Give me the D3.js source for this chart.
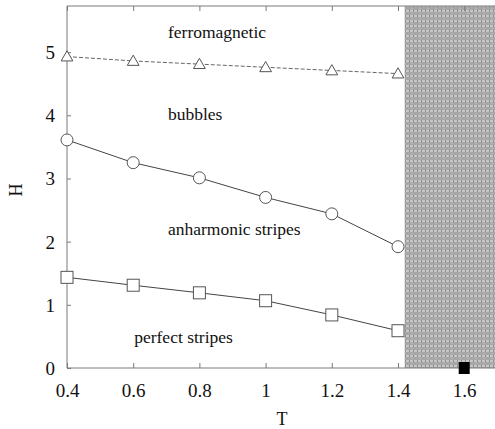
<!DOCTYPE html>
<html>
<head>
<meta charset="utf-8">
<script src="https://cdn.jsdelivr.net/npm/d3@7"></script>
<style>
  html, body { margin: 0; padding: 0; background: #fff; }
  svg { display: block; }
  text { font-family: "Liberation Serif", "Times New Roman", Times, "DejaVu Serif", serif; fill: #111; }
</style>
</head>
<body>
<svg id="chart" width="495" height="429"></svg>
<script>
// Phase boundaries H(T)
const temps = [0.4, 0.6, 0.8, 1.0, 1.2, 1.4];
const ferroBoundary = [4.93, 4.86, 4.81, 4.76, 4.71, 4.66];
const bubbleBoundary = [3.61, 3.25, 3.01, 2.70, 2.44, 1.92];
const stripeBoundary = [1.435, 1.31, 1.19, 1.065, 0.84, 0.59];

// Disordered (shaded) region begins here
const shadeStartT = 1.42;
// Isolated transition point
const criticalPoint = { T: 1.6, H: 0 };

const xTicks = [0.4, 0.6, 0.8, 1.0, 1.2, 1.4, 1.6];
const xTickLabels = ["0.4", "0.6", "0.8", "1", "1.2", "1.4", "1.6"];
const yTicks = [0, 1, 2, 3, 4, 5];

const phaseNames = ["ferromagnetic", "bubbles", "anharmonic stripes", "perfect stripes"];
const phaseT = [0.705, 0.705, 0.705, 0.603];
const phaseH = [5.23, 3.92, 2.10, 0.39];

const serif = '"Liberation Serif", "Times New Roman", Times, "DejaVu Serif", serif';

const svg = d3.select("#chart");
const x = d3.scaleLinear().domain([0.4, 1.7]).range([67, 497.3]);
const y = d3.scaleLinear().domain([0, 5.73]).range([368, 6]);

const axisColor = "#7a7a7a";
const lineColor = "#444";

// shaded pattern
const defs = svg.append("defs");
const pat = defs.append("pattern").attr("id", "shade")
  .attr("patternUnits", "userSpaceOnUse").attr("width", 8).attr("height", 5);
pat.append("rect").attr("width", 8).attr("height", 5).attr("fill", "#a6a6a6");
pat.append("rect").attr("y", 0).attr("width", 8).attr("height", 2).attr("fill", "#c8c8c8");
pat.append("rect").attr("x", 1).attr("y", 0).attr("width", 1).attr("height", 2).attr("fill", "#8c8c8c");
pat.append("rect").attr("x", 5).attr("y", 0).attr("width", 1).attr("height", 2).attr("fill", "#8c8c8c");
pat.append("rect").attr("x", 3).attr("y", 3).attr("width", 2).attr("height", 1).attr("fill", "#b8b8b8");

svg.append("rect")
  .attr("x", x(shadeStartT)).attr("y", y(5.73))
  .attr("width", x(1.7) - x(shadeStartT)).attr("height", y(0) - y(5.73))
  .attr("fill", "url(#shade)");

// frame
const frame = svg.append("g").attr("stroke", axisColor).attr("stroke-width", 1).attr("fill", "none");
frame.append("line").attr("x1", x(0.4)).attr("x2", x(0.4)).attr("y1", y(5.73)).attr("y2", y(0));
frame.append("line").attr("x1", x(0.4)).attr("x2", 495).attr("y1", y(0)).attr("y2", y(0));
frame.append("line").attr("x1", x(0.4)).attr("x2", 495).attr("y1", y(5.73)).attr("y2", y(5.73));

// axes: ticks drawn inward
const xAxisB = d3.axisBottom(x).tickValues(xTicks).tickSize(-5)
  .tickFormat((d, i) => xTickLabels[i]).tickPadding(16);
const gxb = svg.append("g").attr("transform", `translate(0,${y(0)})`).call(xAxisB);
const xAxisT = d3.axisTop(x).tickValues(xTicks).tickSize(-5).tickFormat("");
const gxt = svg.append("g").attr("transform", `translate(0,${y(5.73)})`).call(xAxisT);
const yAxis = d3.axisLeft(y).tickValues(yTicks).tickSize(-4).tickPadding(12).tickFormat(d3.format("d"));
const gy = svg.append("g").attr("transform", `translate(${x(0.4)},0)`).call(yAxis);

[gxb, gxt, gy].forEach(g => {
  g.attr("font-family", serif);
  g.select(".domain").remove();
  g.selectAll(".tick line").attr("stroke", axisColor);
  g.selectAll(".tick text").style("font-family", serif)
    .attr("font-size", 19).attr("fill", "#111");
});
gy.selectAll(".tick text").attr("dy", "0.34em");

// boundary lines
const line = d3.line().x((d, i) => x(temps[i])).y(d => y(d));
svg.append("path").datum(ferroBoundary).attr("d", line)
  .attr("fill", "none").attr("stroke", "#666").attr("stroke-width", 1).attr("stroke-dasharray", "4,2");
svg.append("path").datum(bubbleBoundary).attr("d", line)
  .attr("fill", "none").attr("stroke", lineColor).attr("stroke-width", 1);
svg.append("path").datum(stripeBoundary).attr("d", line)
  .attr("fill", "none").attr("stroke", lineColor).attr("stroke-width", 1);

// markers
const tri = d3.symbol().type(d3.symbolTriangle).size(60);
svg.append("g").selectAll("path").data(ferroBoundary).join("path")
  .attr("transform", (d, i) => `translate(${x(temps[i])},${y(d) + 1})`)
  .attr("d", tri).attr("fill", "#fff").attr("stroke", "#555").attr("stroke-width", 1);

svg.append("g").selectAll("circle").data(bubbleBoundary).join("circle")
  .attr("cx", (d, i) => x(temps[i])).attr("cy", d => y(d)).attr("r", 6)
  .attr("fill", "#fff").attr("stroke", "#555").attr("stroke-width", 1);

svg.append("g").selectAll("rect").data(stripeBoundary).join("rect")
  .attr("x", (d, i) => x(temps[i]) - 6).attr("y", d => y(d) - 6)
  .attr("width", 12).attr("height", 12)
  .attr("fill", "#fff").attr("stroke", "#555").attr("stroke-width", 1);

svg.append("rect")
  .attr("x", x(criticalPoint.T) - 5.5).attr("y", y(criticalPoint.H) - 6)
  .attr("width", 11).attr("height", 12).attr("fill", "#000");

// phase labels
svg.append("g").selectAll("text").data(phaseNames).join("text")
  .attr("x", (d, i) => x(phaseT[i])).attr("y", (d, i) => y(phaseH[i]))
  .style("font-family", serif)
  .attr("font-size", 17.5)
  .text(d => d);

// axis titles
svg.append("text").attr("x", 282).attr("y", 425).attr("text-anchor", "middle")
  .style("font-family", serif).attr("font-size", 18).text("T");
svg.append("text").attr("transform", "translate(22,190) rotate(-90)")
  .style("font-family", serif).attr("text-anchor", "middle").attr("font-size", 18).text("H");
</script>
</body>
</html>
